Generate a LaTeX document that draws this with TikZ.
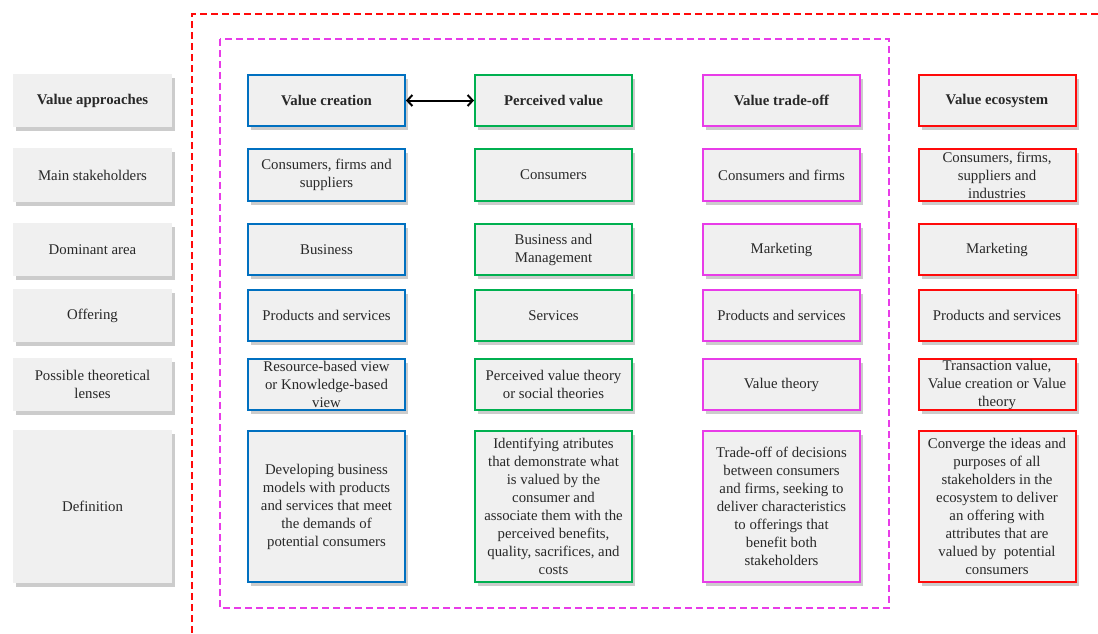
\documentclass[tikz,border=0pt]{standalone}
\usepackage{fontspec}
\setmainfont{Liberation Serif}
\usetikzlibrary{shadows,arrows.meta}
\definecolor{cblue}{RGB}{0,112,192}
\definecolor{cgreen}{RGB}{0,176,80}
\definecolor{cmag}{RGB}{232,60,232}
\definecolor{cred}{RGB}{255,10,10}
\definecolor{boxfill}{RGB}{240,240,240}
\definecolor{txt}{RGB}{40,40,40}
\begin{document}
\begin{tikzpicture}[x=1pt,y=-1pt,
  cell/.style={rectangle, fill=boxfill, minimum width=159pt, inner sep=0pt, align=center,
    text=txt, font=\fontsize{14.8}{18}\selectfont,
    drop shadow={shadow xshift=3pt, shadow yshift=-3.5pt, fill=black!40, opacity=0.5}},
  hdr/.style={cell, draw=none},
  vcbox/.style={cell, draw=cblue, line width=2pt, minimum width=157pt},
  pvbox/.style={cell, draw=cgreen, line width=2pt, minimum width=157pt},
  tobox/.style={cell, draw=cmag, line width=2pt, minimum width=157pt},
  vebox/.style={cell, draw=cred, line width=2pt, minimum width=157pt},
  bold/.style={font=\fontsize{14.8}{18}\selectfont\bfseries},
  frame/.style={line width=2pt, dash pattern=on 7pt off 4pt},
  link/.style={{Straight Barb[length=5pt,width=11pt,line width=2pt]}-{Straight Barb[length=5pt,width=11pt,line width=2pt]}, line width=2pt, black}
]
\useasboundingbox (0,0) rectangle (1098,633);

% frames
\draw[frame, cred] (192,633) -- (192,14) -- (1098,14);
\draw[frame, cmag] (220,39) rectangle (889,608);

% row heights
\tikzset{r1/.style={minimum height=51pt}, r2/.style={minimum height=52pt},
  r6/.style={minimum height=151pt}}

% left column
\node[hdr, bold, minimum height=53pt] (l1) at (92.5,100.5) {Value approaches};
\node[hdr, minimum height=54pt] (l2) at (92.5,175) {Main stakeholders};
\node[hdr, minimum height=53pt] (l3) at (92.5,249.5) {Dominant area};
\node[hdr, minimum height=53pt] (l4) at (92.5,315.5) {Offering};
\node[hdr, minimum height=53pt] (l5) at (92.5,384.5) {Possible theoretical\\lenses};
\node[hdr, minimum height=153pt] (l6) at (92.5,506.5) {Definition};

% value creation
\node[vcbox, bold, r1] (a1) at (326.5,100.5) {Value creation};
\node[vcbox, r2] (a2) at (326.5,175) {Consumers, firms and\\suppliers};
\node[vcbox, r1] (a3) at (326.5,249.5) {Business};
\node[vcbox, r1] (a4) at (326.5,315.5) {Products and services};
\node[vcbox, r1] (a5) at (326.5,384.5) {Resource-based view\\or Knowledge-based\\view};
\node[vcbox, r6] (a6) at (326.5,506.5) {Developing business\\models with products\\and services that meet\\the demands of\\potential consumers};

% perceived value
\node[pvbox, bold, r1] (b1) at (553.5,100.5) {Perceived value};
\node[pvbox, r2] (b2) at (553.5,175) {Consumers};
\node[pvbox, r1] (b3) at (553.5,249.5) {Business and\\Management};
\node[pvbox, r1] (b4) at (553.5,315.5) {Services};
\node[pvbox, r1] (b5) at (553.5,384.5) {Perceived value theory\\or social theories};
\node[pvbox, r6] (b6) at (553.5,506.5) {Identifying atributes\\that demonstrate what\\is valued by the\\consumer and\\associate them with the\\perceived benefits,\\quality, sacrifices, and\\costs};

% value trade-off
\node[tobox, bold, r1] (c1) at (781.5,100.5) {Value trade-off};
\node[tobox, r2] (c2) at (781.5,175) {Consumers and firms};
\node[tobox, r1] (c3) at (781.5,249.5) {Marketing};
\node[tobox, r1] (c4) at (781.5,315.5) {Products and services};
\node[tobox, r1] (c5) at (781.5,384.5) {Value theory};
\node[tobox, r6] (c6) at (781.5,506.5) {Trade-off of decisions\\between consumers\\and firms, seeking to\\deliver characteristics\\to offerings that\\benefit both\\stakeholders};

% value ecosystem
\node[vebox, bold, r1] (d1) at (997,100.5) {Value ecosystem};
\node[vebox, r2] (d2) at (997,175) {Consumers, firms,\\suppliers and\\industries};
\node[vebox, r1] (d3) at (997,249.5) {Marketing};
\node[vebox, r1] (d4) at (997,315.5) {Products and services};
\node[vebox, r1] (d5) at (997,384.5) {Transaction value,\\Value creation or Value\\theory};
\node[vebox, r6] (d6) at (997,506.5) {Converge the ideas and\\purposes of all\\stakeholders in the\\ecosystem to deliver\\an offering with\\attributes that are\\valued by~ potential\\consumers};

% arrow
\draw[link] (a1.east) -- (b1.west);
\end{tikzpicture}
\end{document}
